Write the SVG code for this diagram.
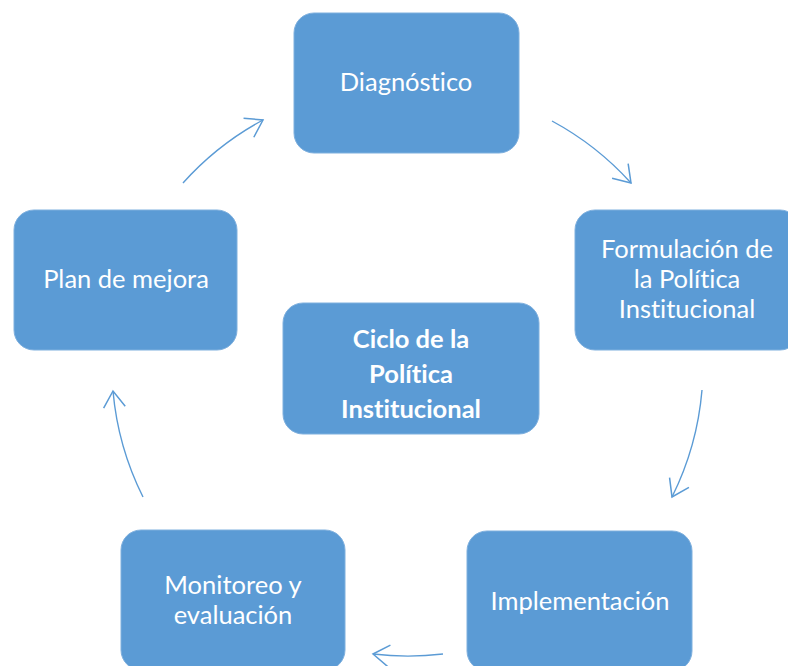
<svg xmlns="http://www.w3.org/2000/svg" width="788" height="666" viewBox="0 0 788 666">
<style>
.box{fill:#5B9BD5;stroke:#7FB0DE;stroke-width:1}
.t{font-family:Lato,"Open Sans","Liberation Sans",sans-serif;font-size:25.5px;fill:#FFFFFF;text-anchor:middle;font-variant-ligatures:none}
.b{font-weight:bold}
.c{fill:none;stroke:#5B9BD5;stroke-width:1.4}
</style>
<defs>
<marker id="ah" markerUnits="userSpaceOnUse" markerWidth="22" markerHeight="26" viewBox="-2 -12 20 24" refX="15" refY="0" orient="auto">
<path d="M0,-10 L15,0 L0,10" fill="none" stroke="#5B9BD5" stroke-width="1.4"/>
</marker>
</defs>
<rect width="788" height="666" fill="#FFFFFF"/>
<g id="connectors">
<path class="c" d="M552,121 A295 295 0 0 1 631,183" marker-end="url(#ah)"/>
<path class="c" d="M702,390 A295 295 0 0 1 672,497" marker-end="url(#ah)"/>
<path class="c" d="M443,654 A295 295 0 0 1 373,654" marker-end="url(#ah)"/>
<path class="c" d="M143,497 A295 295 0 0 1 113,391" marker-end="url(#ah)"/>
<path class="c" d="M183,183 A295 295 0 0 1 263,120" marker-end="url(#ah)"/>
</g>
<g id="diagnostico">
<rect class="box" x="294" y="13" width="225" height="140" rx="20"/>
<text class="t" x="406" y="91">Diagnóstico</text>
</g>
<g id="formulacion">
<rect class="box" x="575" y="210" width="225" height="140" rx="20"/>
<text class="t" x="687" y="258">Formulación de</text>
<text class="t" x="687" y="288">la Política</text>
<text class="t" x="687" y="318">Institucional</text>
</g>
<g id="implementacion">
<rect class="box" x="467" y="531" width="225" height="140" rx="20"/>
<text class="t" x="580" y="610">Implementación</text>
</g>
<g id="monitoreo">
<rect class="box" x="121" y="530" width="224" height="140" rx="20"/>
<text class="t" x="233" y="594">Monitoreo y</text>
<text class="t" x="233" y="624">evaluación</text>
</g>
<g id="plan">
<rect class="box" x="14" y="210" width="223" height="140" rx="20"/>
<text class="t" x="126" y="288">Plan de mejora</text>
</g>
<g id="ciclo">
<rect class="box" x="283" y="303" width="256" height="131" rx="20"/>
<text class="t b" x="411" y="348">Ciclo de la</text>
<text class="t b" x="411" y="383">Política</text>
<text class="t b" x="411" y="418">Institucional</text>
</g>
</svg>
